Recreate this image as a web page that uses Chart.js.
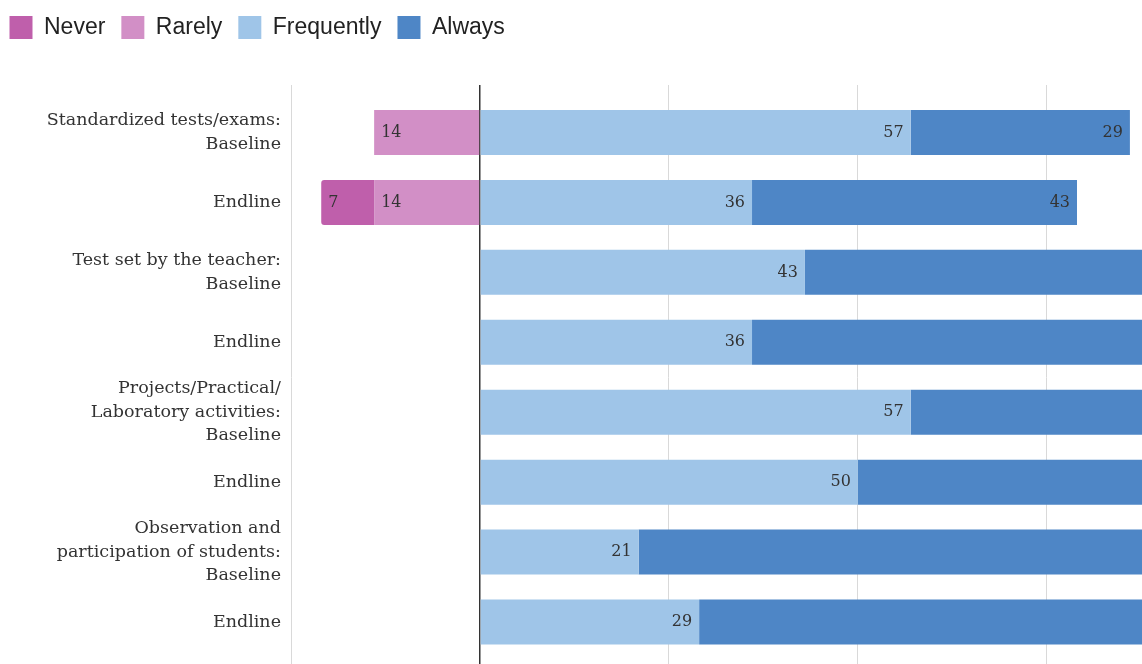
<!DOCTYPE html>
<html><head><meta charset="utf-8">
<script src="https://cdn.jsdelivr.net/npm/chart.js@4"></script>
<style>html,body{margin:0;padding:0;background:#fff;overflow:hidden}#wrap{width:1142px;height:664px}</style>
</head><body><div id="wrap"><canvas id="c" width="1142" height="664"></canvas></div>
<script>
const categories = [
  ["Standardized tests/exams:", "Baseline"],
  "Endline",
  ["Test set by the teacher:", "Baseline"],
  "Endline",
  ["Projects/Practical/", "Laboratory activities:", "Baseline"],
  "Endline",
  ["Observation and", "participation of students:", "Baseline"],
  "Endline"
];
const seriesNames = ["Never", "Rarely", "Frequently", "Always"];
const never      = [0, -7, 0, 0, 0, 0, 0, 0];
const rarely     = [-14, -14, 0, 0, 0, 0, 0, 0];
const frequently = [57, 36, 43, 36, 57, 50, 21, 29];
const always     = [29, 43, 57, 64, 43, 50, 79, 71];
const xTicks = [-25, 0, 25, 50, 75];

const colors = {Never: "#bf5fab", Rarely: "#d28fc6", Frequently: "#9fc5e8", Always: "#4e86c6"};
const PAD_LEFT = -6.5;
const LEGEND_H = 85;
const AXIS_LEFT = 291;

const legendFit = {
  id: "legendFit",
  beforeUpdate(chart) {
    const lg = chart.legend;
    if (lg && !lg._patched) {
      const f = lg.fit;
      lg.fit = function () { f.call(this); this.height = LEGEND_H; };
      lg._patched = true;
    }
  }
};

const valueLabels = {
  id: "valueLabels",
  afterDatasetsDraw(chart) {
    const {ctx, chartArea: a} = chart;
    ctx.save();
    ctx.beginPath();
    ctx.rect(a.left, a.top, a.right - a.left, a.bottom - a.top);
    ctx.clip();
    ctx.font = '16px "DejaVu Serif"';
    ctx.fillStyle = "#333";
    ctx.textBaseline = "middle";
    chart.data.datasets.forEach((ds, i) => {
      const meta = chart.getDatasetMeta(i);
      meta.data.forEach((el, j) => {
        const v = ds.data[j];
        if (!v) return;
        if (v > 0) { ctx.textAlign = "right"; ctx.fillText(String(v), el.x - 7, el.y); }
        else { ctx.textAlign = "left"; ctx.fillText(String(-v), el.x + 7, el.y); }
      });
    });
    ctx.restore();
  }
};

const gridColor = c => (c.tick && c.tick.value === 0) ? "#333" : "#d9d9d9";
const gridWidth = c => (c.tick && c.tick.value === 0) ? 1.5 : 1;
const setTicks = s => { s.ticks = xTicks.map(v => ({value: v})); };

const mk = (name, data, extra) => Object.assign({
  label: name, data: data, backgroundColor: colors[name],
  borderWidth: 0, barPercentage: 0.643, categoryPercentage: 1
}, extra || {});

new Chart(document.getElementById("c"), {
  type: "bar",
  data: {
    labels: categories,
    datasets: [
      mk("Rarely", rarely),
      mk("Never", never, {borderRadius: 3, borderSkipped: "start"}),
      mk("Frequently", frequently),
      mk("Always", always)
    ]
  },
  options: {
    indexAxis: "y",
    responsive: false,
    animation: false,
    layout: {padding: {top: 0, left: PAD_LEFT, right: 0, bottom: 0}},
    plugins: {
      tooltip: {enabled: false},
      legend: {
        position: "top", align: "start",
        labels: {
          boxWidth: 23, boxHeight: 23, padding: 16, color: "#222",
          font: {family: '"Liberation Sans", Arial, sans-serif', size: 23},
          sort: (a, b) => seriesNames.indexOf(a.text) - seriesNames.indexOf(b.text)
        }
      }
    },
    scales: {
      x: {
        type: "linear", position: "top", stacked: true, min: -25, max: 87.6,
        afterBuildTicks: setTicks,
        ticks: {display: false},
        grid: {color: gridColor, lineWidth: gridWidth, tickLength: 12.5, drawTicks: true},
        border: {display: false}
      },
      x2: {
        type: "linear", position: "bottom", min: -25, max: 87.6,
        afterBuildTicks: setTicks,
        ticks: {display: false},
        grid: {color: gridColor, lineWidth: gridWidth, tickLength: 7, drawTicks: true, drawOnChartArea: false},
        border: {display: false}
      },
      y: {
        stacked: true,
        afterFit: s => { s.width = AXIS_LEFT - PAD_LEFT; s.paddingTop = 0; s.paddingBottom = 0; },
        grid: {display: false, drawTicks: false},
        border: {display: false},
        ticks: {color: "#333", padding: 10, autoSkip: false,
                font: {family: '"DejaVu Serif", serif', size: 17.5, lineHeight: "23.5px"}}
      }
    }
  },
  plugins: [legendFit, valueLabels]
});
</script>
</body></html>
